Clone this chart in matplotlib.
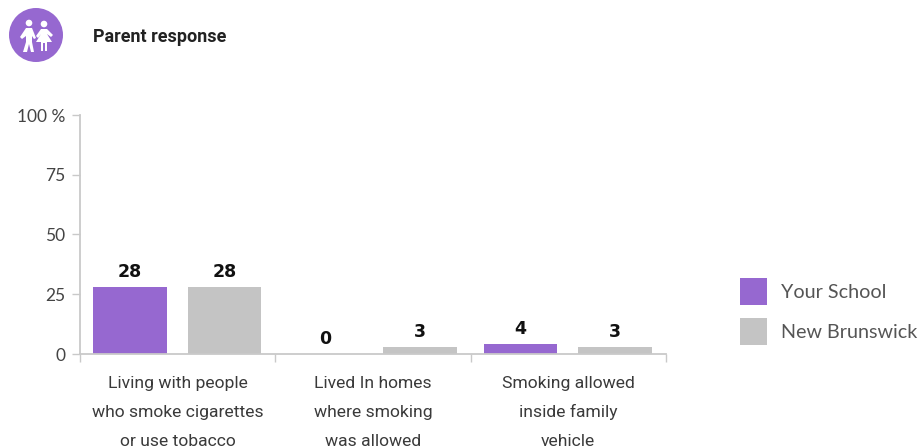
import matplotlib
matplotlib.use('Agg')
import matplotlib.pyplot as plt
from matplotlib.patches import Circle, Polygon, Rectangle
import numpy as np

# --- Data ---
categories = ["Living with people\nwho smoke cigarettes\nor use tobacco",
              "Lived In homes\nwhere smoking\nwas allowed",
              "Smoking allowed\ninside family\nvehicle"]
your_school = [28, 0, 4]
new_brunswick = [28, 3, 3]
yticks = [0, 25, 50, 75, 100]
ytick_labels = ["0", "25", "50", "75", "100 %"]
series_names = ["Your School", "New Brunswick"]

PURPLE = "#9668d0"
GREY = "#c4c4c4"
AXIS = "#c9c9c9"
TEXT = "#3a3a3a"

W, H = 923, 448
fig = plt.figure(figsize=(W / 100, H / 100), dpi=100)
ax = fig.add_axes([80 / W, (H - 354) / H, (666 - 80) / W, (354 - 115) / H])

x = np.arange(len(categories))
bar_w = 0.378
ax.bar(x - 0.245, your_school, bar_w, color=PURPLE, zorder=2)
ax.bar(x + 0.24, new_brunswick, bar_w, color=GREY, zorder=2)

for xi, v in zip(x - 0.245, your_school):
    ax.annotate(str(v), (xi, v), xytext=(0, 4.5), textcoords='offset points', ha='center',
                va='bottom', fontsize=12.5, fontweight='bold', family='DejaVu Sans', color='#111111')
for xi, v in zip(x + 0.24, new_brunswick):
    ax.annotate(str(v), (xi, v), xytext=(0, 4.5), textcoords='offset points', ha='center',
                va='bottom', fontsize=12.5, fontweight='bold', family='DejaVu Sans', color='#111111')

ax.set_xlim(-0.5, 2.5)
ax.set_ylim(0, 100)

ax.set_yticks(yticks)
ax.set_yticklabels(ytick_labels, fontsize=12.5, family='Lato', color='#444444')
ax.set_xticks(np.arange(len(categories) + 1) - 0.5)
ax.set_xticklabels([])
ax.tick_params(axis='y', length=5.5, width=1, color=AXIS, pad=5)
ax.tick_params(axis='x', length=5.5, width=1, color=AXIS)

for s in ['top', 'right']:
    ax.spines[s].set_visible(False)
ax.spines['left'].set_color(AXIS)
ax.spines['bottom'].set_color(AXIS)
ax.spines['left'].set_linewidth(1.3)
ax.spines['bottom'].set_linewidth(1.3)

# Category labels, one text per line so the baselines stay evenly spaced
for xi, label in zip(x, categories):
    for line, drop in zip(label.split("\n"), [-24.5, -45.4, -66.2]):
        ax.annotate(line, (xi, 0), xytext=(0, drop), textcoords='offset points', ha='center',
                    va='baseline', fontsize=12.6, family='Roboto', color=TEXT,
                    annotation_clip=False)

# Title
fig.text(93 / W, 1 - 37 / H, "Parent response", ha='left', va='center',
         fontsize=13, fontweight='bold', family='Roboto', color='#222222')

# Legend
for y_px, color, name in zip([278, 318], [PURPLE, GREY], series_names):
    fig.add_artist(Rectangle((740 / W, 1 - (y_px + 27) / H), 27 / W, 27 / H,
                             transform=fig.transFigure, color=color, lw=0))
    fig.text(781 / W, 1 - (y_px + 14.5) / H, name, ha='left', va='center',
             fontsize=14.2, family='Lato', color='#555555')

# Badge with the two children, in pixel coordinates
icon = fig.add_axes([0, 1 - 70 / H, 70 / W, 70 / H])
icon.set_xlim(0, 70)
icon.set_ylim(70, 0)
icon.axis('off')
icon.add_patch(Circle((36, 35), 27, color=PURPLE, lw=0))
icon.add_patch(Circle((29, 23), 3.3, color='white', lw=0))
icon.add_patch(Circle((44, 24), 3.3, color='white', lw=0))
icon.add_patch(Polygon([(26, 28), (32, 28), (36, 38), (34, 39), (32, 36), (32, 42),
                        (34, 52), (31, 52), (29, 44), (27, 52), (23, 52), (26, 42),
                        (26, 36), (22, 39), (20, 37)], color='white', lw=0))
icon.add_patch(Polygon([(41, 29), (47, 29), (53, 35), (51, 37), (47, 34), (52, 42),
                        (47, 42), (47, 51), (45, 51), (45, 43), (43, 43), (43, 51),
                        (41, 51), (41, 42), (36, 42), (41, 34), (38, 38), (36, 36)],
                       color='white', lw=0))

plt.savefig("out.png", dpi=100)
